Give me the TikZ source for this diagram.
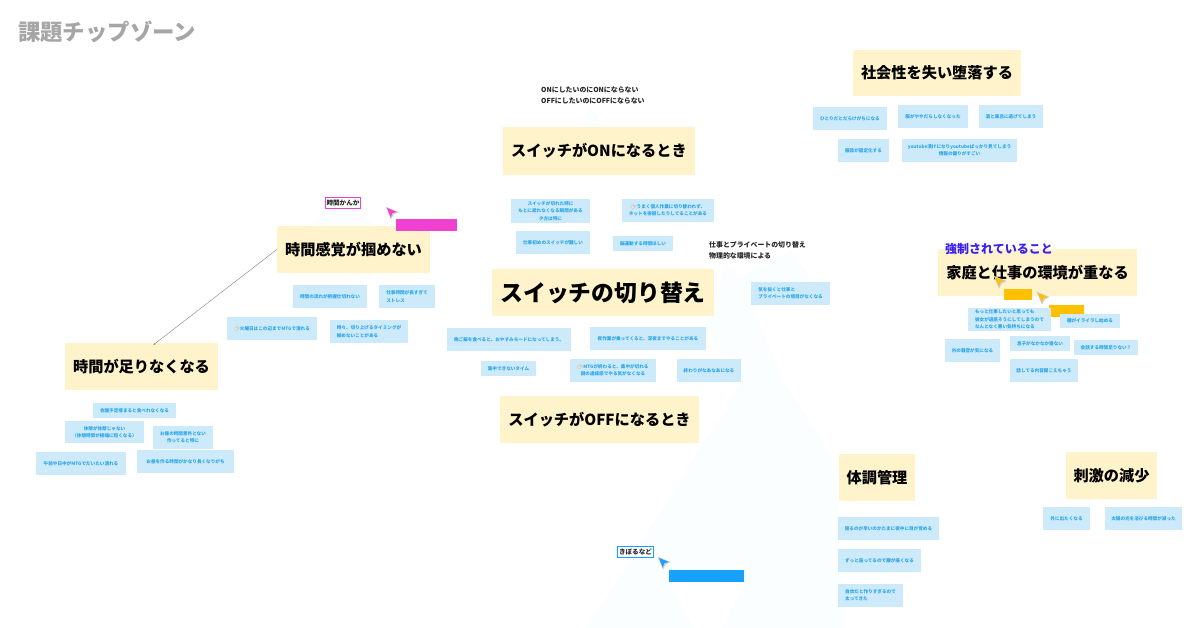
\documentclass[tikz,border=0pt]{standalone}
\usepackage{fontspec}
\setmainfont{Noto Sans CJK JP}
\newfontfamily\emojifont{Noto Emoji}
\usetikzlibrary{arrows.meta}
\definecolor{fondpale}{HTML}{FAFEFF}
\definecolor{cartefond}{HTML}{CDEAFA}
\definecolor{cartetexte}{HTML}{2BA6EA}
\definecolor{titrefond}{HTML}{FFF3CC}
\definecolor{rose}{HTML}{F040D0}
\definecolor{bleuvif}{HTML}{18A0FF}
\definecolor{orangevif}{HTML}{FFC000}
\newcommand{\doigt}{{\color{orange}\emojifont 👉}}
\tikzset{
  taille/.style 2 args={minimum width=#1pt, minimum height=#2pt},
  carte/.style={fill=cartefond, text=cartetexte, inner sep=0pt, align=center, font=\fontsize{4.6}{7.4}\selectfont\bfseries},
  cartel/.style={carte, align=left},
  titre/.style={fill=titrefond, text=black, inner sep=0pt, font=\fontsize{15.2}{18}\selectfont\bfseries},
  note/.style={text=black!85, inner sep=0pt, align=left, anchor=west, font=\fontsize{6.9}{11}\selectfont\bfseries},
  etiquette/.style={draw=#1, line width=1.3pt, fill=white, inner sep=0pt, text=black!85, font=\fontsize{6.6}{8}\selectfont\bfseries},
  barre/.style={fill=#1, inner sep=0pt},
  pics/curseur/.style={code={
    \fill[black!20] (-1.2,-1.2) -- (11.5,4) -- (6.5,6.5) -- (4,11.5) -- cycle;
    \fill[#1] (0,0) -- (9.5,3.8) -- (5.2,5.2) -- (3.8,9.5) -- cycle;
  }},
}
\begin{document}
\begin{tikzpicture}[x=1pt, y=-1pt]
  \useasboundingbox (0,0) rectangle (1200,628);
  \fill[white] (0,0) rectangle (1200,628);

  % Montagnes pales
  \fill[fondpale] (587,628) -- (742,382) -- (705,325) -- (714,300) -- (727,263) -- (738,279)
    -- (793,250) -- (812,282) -- (752,306) -- (783,380) -- (840,470) -- (838,540) -- (845,628)
    -- (722,628) -- (746,582) -- (669,582) -- (693,628) -- cycle;
  \fill[fondpale] (578,127) -- (590,107) -- (603,127) -- cycle;
  \fill[fondpale] (310,226) -- (342,198) -- (375,226) -- cycle;

  \node[text=black!35, inner sep=0pt, anchor=west, font=\fontsize{22.4}{24}\selectfont\bfseries] (zone) at (18,32) {課題チップゾーン};

  % Temps
  \node[etiquette=rose, taille={35}{11}] (kanka) at (343,203) {時間かんか};
  \node[titre, taille={153}{47}] (kankaku) at (353.5,249.5) {時間感覚が掴めない};
  \node[barre=rose, taille={61}{12}] (barrerose) at (426.5,225) {};
  \pic at (387,208) {curseur=rose};
  \node[carte, taille={74}{23}] (flux) at (330,296.5) {時間の流れが把握仕切れない};
  \node[cartel, taille={56}{23}] (stress) at (407,296.5) {仕事時間が長すぎて\\ストレス};
  \node[carte, taille={90}{23}] (mardi) at (272,328.5) {\doigt 火曜日はこの辺までMTGで潰れる};
  \node[cartel, taille={78}{23}] (coupe) at (369,331.5) {時々、切り上げるタイミングが\\掴めないことがある};
  \node[titre, taille={153}{47}] (tarinai) at (141.5,366.5) {時間が足りなくなる};
  \draw[gray, -{Stealth[length=2pt,width=2pt]}] (kankaku.west) -- ([xshift=12pt,yshift=-2pt]tarinai.north);

  \node[carte, taille={83}{15}] (reunion) at (134.5,410.5) {会議予定埋まると食べれなくなる};
  \node[carte, taille={79}{22}] (pause) at (104.5,432) {休憩が休憩じゃない\\（休憩時間が極端に短くなる）};
  \node[carte, taille={60}{23}] (midi) at (183,437.5) {お昼の時間意外とない\\作ってると特に};
  \node[carte, taille={90}{23}] (matin) at (81,463.5) {午前や日中がMTGでだいたい潰れる};
  \node[carte, taille={97}{23}] (repas) at (185.5,461.5) {お昼を作る時間がかなり長くなりがち};

  % Centre
  \node[note] (onoff) at (541,95) {ONにしたいのにONにならない\\OFFにしたいのにOFFにならない};
  \node[titre, taille={192}{48}] (on) at (599,151) {スイッチがONになるとき};
  \node[carte, taille={79}{24}] (retour) at (550.5,211) {スイッチが切れた時に\\もとに戻れなくなる瞬間がある\\夕方は特に};
  \node[carte, taille={92}{23}] (perso) at (668,210.5) {\doigt うまく個人作業に切り替われず、\\ネットを徘徊したりしてることがある};
  \node[carte, taille={74}{23}] (debut) at (553,242.5) {仕事初めのスイッチが難しい};
  \node[carte, taille={60}{15}] (sport) at (643,243.5) {脳運動する時間ほしい};
  \node[note] (physique) at (709,250) {仕事とプライベートの切り替え\\物理的な環境による};
  \node[titre, taille={222}{47}, font=\fontsize{22.8}{26}\selectfont\bfseries] (switch) at (603,292.5) {スイッチの切り替え};
  \node[cartel, taille={79}{23}] (limite) at (790.5,293.5) {気を抜くと仕事と\\プライベートの境目がなくなる};
  \node[carte, taille={124}{23}] (soir) at (509,339.5) {晩ご飯を食べると、おやすみモードになってしまう。};
  \node[carte, taille={116}{23}] (nuit) at (648,338.5) {夜作業が乗ってくると、深夜までやることがある};
  \node[carte, taille={55}{15}] (focus) at (508.5,368.5) {集中できないタイム};
  \node[carte, taille={86}{23}] (fin) at (613,370.5) {\doigt MTGが終わると、集中が切れる\\謎の達成感でやる気がなくなる};
  \node[carte, taille={64}{23}] (naa) at (709,370.5) {終わりがなあなあになる};
  \node[titre, taille={199}{47}] (off) at (599.5,419.5) {スイッチがOFFになるとき};
  \node[etiquette=bleuvif, taille={36}{11}] (kiboru) at (635.5,552) {きぼるなど};
  \node[barre=bleuvif, taille={75}{12}] (barrebleue) at (706.5,576) {};
  \pic at (659,558) {curseur=bleuvif};

  % Social
  \node[titre, taille={168}{46}] (social) at (937,73) {社会性を失い堕落する};
  \node[carte, taille={74}{23}] (seul) at (850,118.5) {ひとりだとだらけがちになる};
  \node[carte, taille={70}{23}] (habits) at (933,116.5) {服がややだらしなくなった};
  \node[carte, taille={64}{23}] (bain) at (1011,116.5) {酒と風呂に逃げてしまう};
  \node[carte, taille={51}{23}] (fixe) at (863.5,150.5) {服装が固定化する};
  \node[carte, taille={115}{23}] (youtube) at (959.5,150.5) {youtube漬けになりyoutubeばっかり見てしまう\\情報の偏りがすごい};

  % Maison
  \node[titre, taille={199}{47}] (maison) at (1037.5,272.5) {家庭と仕事の環境が重なる};
  \node[anchor=west, inner sep=0pt, text={rgb,255:red,58;green,31;blue,240}, font=\fontsize{12}{14}\selectfont\bfseries] (force) at (945,249) {強制されていること};
  \node[barre=orangevif, taille={28}{11}] (barreun) at (1018,294.5) {};
  \node[barre=orangevif, taille={35}{12}] (barredeux) at (1066.5,311) {};
  \pic at (995,277) {curseur=orangevif};
  \pic at (1038,293) {curseur=orangevif};
  \node[cartel, taille={83}{23}] (copine) at (1009.5,319.5) {もっと仕事したいと思っても\\彼女が退屈そうにしてしまうので\\なんとなく悪い気持ちになる};
  \node[carte, taille={60}{14}] (dos) at (1090,321) {腰がイライラし始める};
  \node[carte, taille={55}{23}] (bruit) at (972.5,350.5) {外の騒音が気になる};
  \node[carte, taille={60}{15}] (fils) at (1040,343.5) {息子がなかなか寝ない};
  \node[carte, taille={64}{15}] (parler) at (1106,347.5) {会話する時間足りない？};
  \node[carte, taille={68}{23}] (entendu) at (1044,370.5) {話してる内容聞こえちゃう};

  % Sante
  \node[titre, taille={76}{47}] (sante) at (877,477.5) {体調管理};
  \node[carte, taille={101}{23}] (reveil) at (888.5,528.5) {寝るのが早いのかたまに夜中に目が覚める};
  \node[carte, taille={83}{23}] (assis) at (879.5,560.5) {ずっと座ってるので腰が痛くなる};
  \node[cartel, taille={65}{23}] (grossi) at (870.5,595.5) {自炊だと作りすぎるので\\太ってきた};

  % Stimulation
  \node[titre, taille={91}{47}] (stimul) at (1111.5,475.5) {刺激の減少};
  \node[carte, taille={47}{23}] (dehors) at (1066.5,518.5) {外に出たくなる};
  \node[carte, taille={77}{23}] (soleil) at (1143.5,518.5) {太陽の光を浴びる時間が減った};
\end{tikzpicture}
\end{document}
